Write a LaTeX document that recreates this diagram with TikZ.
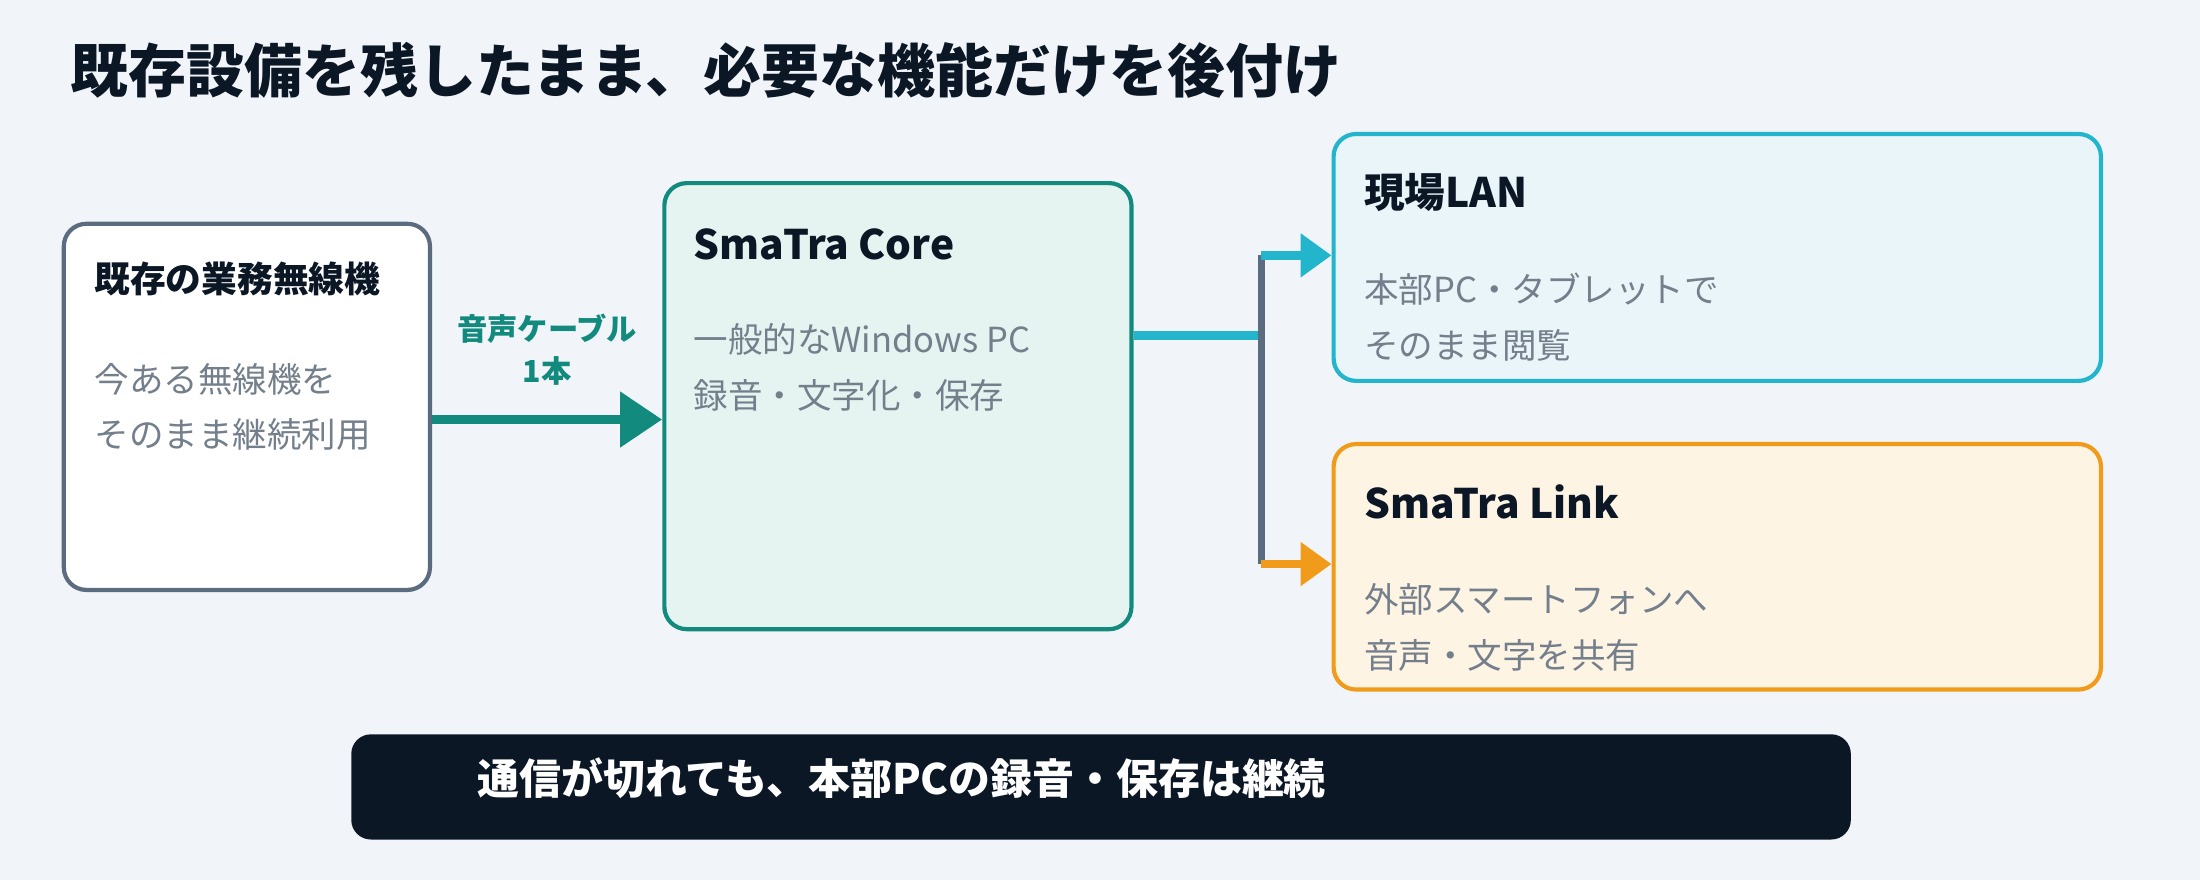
\documentclass[tikz,border=0pt]{standalone}
\usepackage{fontspec}
\setmainfont{Noto Sans CJK JP}
\usetikzlibrary{arrows.meta,positioning}
\definecolor{bgc}{HTML}{F1F5F9}
\definecolor{slate}{HTML}{5B6B80}
\definecolor{teal}{HTML}{138A7E}
\definecolor{tealfill}{HTML}{E6F4F1}
\definecolor{cyan}{HTML}{22B5CC}
\definecolor{cyanfill}{HTML}{E9F5F8}
\definecolor{orng}{HTML}{F09C1A}
\definecolor{orngfill}{HTML}{FEF4E4}
\definecolor{ink}{HTML}{0C1726}
\definecolor{bodyc}{HTML}{747F8C}
\tikzset{
  box/.style={draw,line width=1.7pt,rounded corners=0.32cm,anchor=north west},
  head/.style={anchor=west,inner sep=0pt,font=\bfseries\fontsize{16.5}{18}\selectfont,text=ink},
  body/.style={anchor=west,inner sep=0pt,align=left,font=\fontsize{14}{22.7}\selectfont,text=bodyc},
}
\begin{document}
\begin{tikzpicture}[x=0.02cm,y=-0.02cm]
\useasboundingbox (0,0) rectangle (1568,627);
\fill[bgc] (0,0) rectangle (1568,627);

\node[anchor=west,inner sep=0pt,font=\bfseries\fontsize{23.5}{26}\selectfont,text=ink] (title) at (50,50) {既存設備を残したまま、必要な機能だけを後付け};

% boxes
\node[box,draw=slate,fill=white,minimum width=5.22cm,minimum height=5.22cm] (radio) at (44,158) {};
\node[box,draw=teal,fill=tealfill,minimum width=6.66cm,minimum height=6.36cm] (core) at (472,129) {};
\node[box,draw=cyan,fill=cyanfill,minimum width=10.94cm,minimum height=3.52cm] (lan) at (949,94) {};
\node[box,draw=orng,fill=orngfill,minimum width=10.94cm,minimum height=3.5cm] (link) at (949,315) {};

% texts
\node[head,font=\bfseries\fontsize{14.5}{16}\selectfont] (radioT) at (67,199) {既存の業務無線機};
\node[body] (radioB) at (67,290) {今ある無線機を\\そのまま継続利用};
\node[head] (coreT) at (494,174) {SmaTra Core};
\node[body] (coreB) at (494,262) {一般的なWindows PC\\録音・文字化・保存};
\node[head] (lanT) at (972,137) {現場LAN};
\node[body] (lanB) at (972,226) {本部PC・タブレットで\\そのまま閲覧};
\node[head] (linkT) at (972,358) {SmaTra Link};
\node[body] (linkB) at (972,447) {外部スマートフォンへ\\音声・文字を共有};

% connectors
\coordinate (cOut) at (core.east |- 0,239);
\coordinate (hub) at (899,239);
\coordinate (hubT) at (899,182);
\coordinate (hubB) at (899,402);
\draw[teal,line width=4pt,-{Triangle[length=0.6cm,width=0.76cm]}] (radio.east |- 0,299) -- (core.west |- 0,299)
  node[midway,above=0.3cm,align=center,font=\bfseries\fontsize{12.3}{17}\selectfont,text=teal] (cable) {音声ケーブル\\1本};
\draw[cyan,line width=3.4pt] (cOut) -- (hub);
\draw[slate,line width=2.8pt] (hubT) -- (hubB);
\draw[cyan,line width=3.4pt,-{Triangle[length=0.44cm,width=0.6cm]}] (hubT) -- (lan.west |- hubT);
\draw[orng,line width=3.4pt,-{Triangle[length=0.44cm,width=0.6cm]}] (hubB) -- (link.west |- hubB);

% footer
\node[fill=ink,rounded corners=0.28cm,anchor=north west,minimum width=21.38cm,minimum height=1.5cm] (bar) at (250,523) {};
\node[anchor=west,inner sep=0pt,font=\bfseries\fontsize{17}{19}\selectfont,text=white] (barT) at (340,555) {通信が切れても、本部PCの録音・保存は継続};
\end{tikzpicture}
\end{document}
